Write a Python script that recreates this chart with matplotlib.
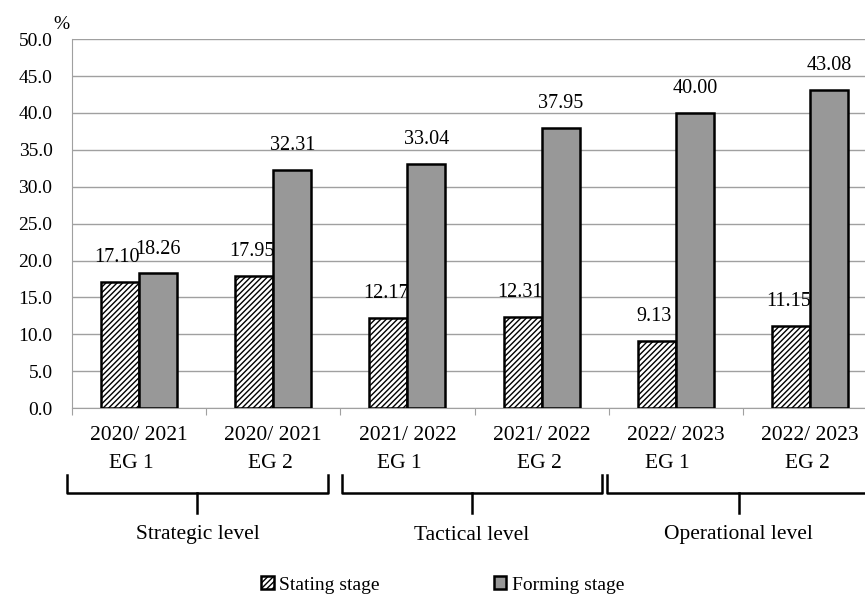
import numpy as np
import matplotlib.pyplot as plt
import matplotlib.transforms as mtransforms

plt.rcParams['font.family'] = ['Liberation Serif', 'DejaVu Serif']
plt.rcParams['hatch.linewidth'] = 1.0

# datos
years = ['2020/ 2021', '2020/ 2021', '2021/ 2022', '2021/ 2022', '2022/ 2023', '2022/ 2023']
groups_eg = ['EG 1', 'EG 2', 'EG 1', 'EG 2', 'EG 1', 'EG 2']
levels_txt = ['Strategic level', 'Tactical level', 'Operational level']
stating = [17.10, 17.95, 12.17, 12.31, 9.13, 11.15]
forming = [18.26, 32.31, 33.04, 37.95, 40.00, 43.08]

fig = plt.figure(figsize=(8.65, 5.94), dpi=100)
ax = fig.add_axes([0.0832, 0.313, 1 - 0.0832, 0.934 - 0.313])

x = np.arange(len(years))
w = 0.283
b1 = ax.bar(x - w / 2, stating, w, color='white', edgecolor='black',
            hatch='//////', linewidth=1.8, label='Stating stage', zorder=3)
b2 = ax.bar(x + w / 2, forming, w, color='#989898', edgecolor='black',
            linewidth=1.8, label='Forming stage', zorder=3)

for xi, v in zip(x - w / 2, stating):
    ax.text(xi - 0.02, v + 3.3, f'{v:.2f}', ha='center', va='center', fontsize=14.5)
for xi, v in zip(x + w / 2, forming):
    ax.text(xi, v + 3.3, f'{v:.2f}', ha='center', va='center', fontsize=14.5)

ax.set_yticks(np.arange(0, 50.1, 5))
ax.set_yticklabels([f'{t:.1f}' for t in np.arange(0, 50.1, 5)], fontsize=14)
ax.yaxis.grid(True, color='#a0a0a0', linewidth=1.0, zorder=0)
ax.tick_params(axis='y', length=0, pad=14)
ax.set_xticks(np.arange(-0.5, 6, 1))
ax.set_xticklabels([])
ax.tick_params(axis='x', length=5, color='#a0a0a0', direction='out')
# limites despues de los ticks (set_xticks amplia la vista)
ax.set_ylim(0, 50)
ax.set_xlim(-0.5, 5.41)
for s in ['top', 'right']:
    ax.spines[s].set_visible(False)
ax.spines['left'].set_color('#a0a0a0')
ax.spines['bottom'].set_color('#a0a0a0')
ax.text(-0.64, 50.8, '%', fontsize=14, ha='left', va='bottom')

# etiquetas de categoria en dos lineas
tr = mtransforms.blended_transform_factory(ax.transData, fig.transFigure)
for xi, yr, eg in zip(x, years, groups_eg):
    ax.text(xi, 1 - 436 / 594, yr, transform=tr, ha='center', va='center', fontsize=15.5)
    dx = -0.06 if eg == 'EG 1' else -0.02
    ax.text(xi + dx, 1 - 463 / 594, eg, transform=tr, ha='center', va='center', fontsize=15.5)

# llaves de nivel
y_top = 1 - 475 / 594
y_mid = 1 - 493 / 594
y_bot = 1 - 513 / 594
spans = [(-0.54, 1.41), (1.51, 3.45), (3.49, 5.45)]
for (a, b), name in zip(spans, levels_txt):
    ax.plot([a, a, b, b], [y_top, y_mid, y_mid, y_top], color='black', lw=1.8,
            transform=tr, clip_on=False)
    c = (a + b) / 2
    ax.plot([c, c], [y_mid, y_bot], color='black', lw=1.8, transform=tr, clip_on=False)
    ax.text(c, 1 - 535 / 594, name, transform=tr, ha='center', va='center', fontsize=15.5)

fig.legend(handles=[b1, b2], loc='center left', bbox_to_anchor=(261 / 865, 1 - 585 / 594),
           ncol=2, frameon=False, fontsize=14, handlelength=0.65, handleheight=0.65,
           handletextpad=0.3, columnspacing=5.85, borderaxespad=0, borderpad=0)

fig.savefig('out.png', dpi=100)
